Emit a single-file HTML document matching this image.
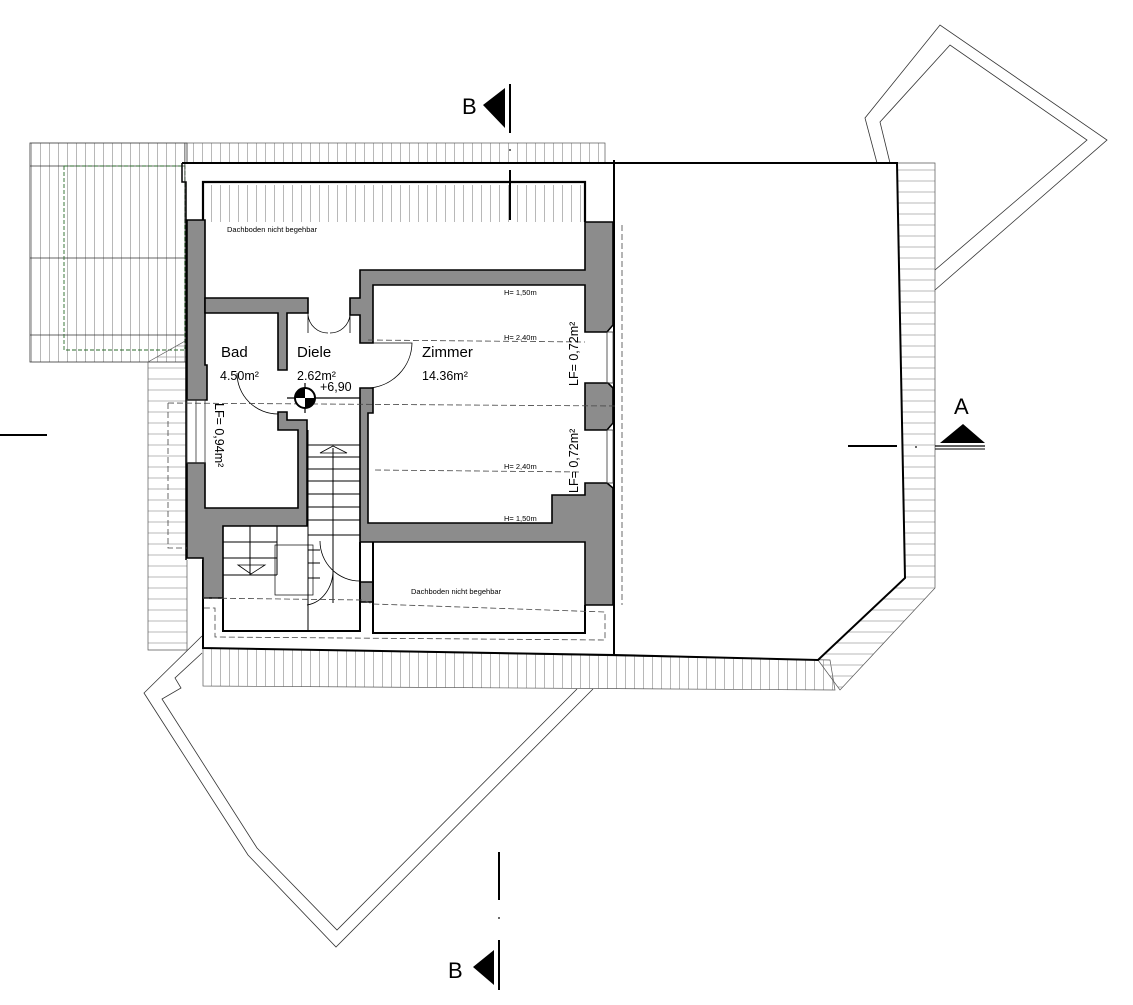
<!DOCTYPE html>
<html><head><meta charset="utf-8"><style>
html,body{margin:0;padding:0;background:#fff;}
svg{display:block;}
text{font-family:"Liberation Sans",Arial,sans-serif;fill:#000;}
</style></head><body>
<svg width="1133" height="1005" viewBox="0 0 1133 1005" xmlns="http://www.w3.org/2000/svg">
<defs>
<pattern id="vh" width="9" height="10" patternUnits="userSpaceOnUse"><line x1="4.5" y1="0" x2="4.5" y2="10" stroke="#9a9a9a" stroke-width="0.7"/></pattern>
<pattern id="hh" width="10" height="11" patternUnits="userSpaceOnUse"><line x1="0" y1="5" x2="10" y2="5" stroke="#9a9a9a" stroke-width="0.7"/></pattern>
</defs>

<rect x="30" y="143" width="157" height="219" fill="url(#vh)" stroke="#333" stroke-width="0.8"/>
<line x1="30" y1="166" x2="185" y2="166" stroke="#333" stroke-width="0.7"/>
<line x1="30" y1="258" x2="187" y2="258" stroke="#333" stroke-width="0.7"/>
<line x1="30" y1="335" x2="187" y2="335" stroke="#333" stroke-width="0.7"/>
<rect x="64" y="166" width="121" height="184" fill="none" stroke="#2a6a2a" stroke-width="0.9" stroke-dasharray="4,2"/>
<polygon points="148,362 187,340 187,650 148,650" fill="url(#hh)" stroke="#555" stroke-width="0.7"/>
<rect x="185" y="143" width="420" height="79" fill="url(#vh)" stroke="#555" stroke-width="0.7"/>
<polygon points="203,648 830,660 835,690 203,686" fill="url(#vh)" stroke="#555" stroke-width="0.7"/>
<polygon points="897,163 935,163 935,588 840,690 818,660 905,578" fill="url(#hh)" stroke="#555" stroke-width="0.7"/>

<polyline points="877,163 865,118 940,25 1107,140 935,290" fill="none" stroke="#333" stroke-width="0.8"/>
<polyline points="890,163 880,122 950,45 1087,140 935,270" fill="none" stroke="#333" stroke-width="0.8"/>
<polyline points="202,636 144,693 248,855 336,947 593,689" fill="none" stroke="#333" stroke-width="0.8"/>
<polyline points="202,653 175,678 181,688 162,699 257,848 337,930 577,689" fill="none" stroke="#333" stroke-width="0.8"/>

<polygon points="186,163 897,163 905,578 818,660 614,655 203,648 203,560 186,560" fill="#fff" stroke="none"/>
<rect x="205" y="185" width="378" height="37" fill="url(#vh)"/>
<polyline points="182,163 897,163 905,578 818,660 614,655 203,648 203,560" fill="none" stroke="#000" stroke-width="2"/>
<polyline points="182,163 182,182 186,182 186,560" fill="none" stroke="#000" stroke-width="1.5"/>
<line x1="614" y1="160" x2="614" y2="655" stroke="#000" stroke-width="2"/>

<polyline points="203,300 203,182 585,182 585,222" fill="none" stroke="#000" stroke-width="2.2"/>
<line x1="510" y1="170" x2="510" y2="220" stroke="#000" stroke-width="2"/>

<g fill="#8c8c8c" stroke="#000" stroke-width="1.6">
<polygon points="187,220 205,220 205,365 207,365 207,400 187,400"/>
<polygon points="205,298 308,298 308,313 287,313 287,370 278,370 278,313 205,313"/>
<polygon points="278,412 287,412 287,420 307,420 307,526 223,526 223,598 203,598 203,558 187,558 187,463 205,463 205,508 298,508 298,430 278,430"/>
<polygon points="360,270 585,270 585,222 613,222 613,325 607,332 585,332 585,285 373,285 373,343 360,343 360,315 350,315 350,298 360,298"/>
<polygon points="585,383 608,383 613,388 613,423 607,430 585,430"/>
<polygon points="360,388 373,388 373,413 368,413 368,523 552,523 552,495 585,495 585,483 607,483 613,488 613,605 585,605 585,542 360,542"/>
<polygon points="360,582 373,582 373,602 360,602"/>
</g>
<g fill="none" stroke="#333" stroke-width="0.8">
<rect x="187" y="400" width="18" height="63"/><line x1="196" y1="400" x2="196" y2="463"/>
<rect x="607" y="332" width="6" height="51"/><rect x="607" y="430" width="6" height="53"/>
</g>

<g fill="none" stroke="#000" stroke-width="2">
<polyline points="223,598 223,631 360,631 360,542"/>
<polyline points="373,542 373,633 585,633 585,605"/>
</g>
<g stroke="#000" stroke-width="1" fill="none">
<line x1="308" y1="430" x2="308" y2="631"/>
<line x1="308" y1="445" x2="360" y2="445"/><line x1="308" y1="457" x2="360" y2="457"/><line x1="308" y1="469" x2="360" y2="469"/><line x1="308" y1="481" x2="360" y2="481"/><line x1="308" y1="494" x2="360" y2="494"/><line x1="308" y1="507" x2="360" y2="507"/><line x1="308" y1="520" x2="360" y2="520"/><line x1="308" y1="535" x2="360" y2="535"/><line x1="308" y1="550" x2="320" y2="550"/><line x1="308" y1="563" x2="320" y2="563"/><line x1="308" y1="578" x2="320" y2="578"/>
<line x1="223" y1="542" x2="277" y2="542"/><line x1="223" y1="558" x2="277" y2="558"/><line x1="223" y1="575" x2="277" y2="575"/>
<line x1="250" y1="526" x2="250" y2="575"/><line x1="277" y1="526" x2="277" y2="575"/>
<rect x="275" y="545" width="38" height="50" stroke-width="0.7"/>
<line x1="333" y1="448" x2="333" y2="603"/>
<polygon points="320,453 333,446 347,453" stroke-width="0.8"/>
<polygon points="238,565 265,565 251,574" stroke-width="0.8"/>
<path d="M320,541 A40,40 0 0 0 360,581" stroke-width="0.8"/>
<path d="M307,605 A30,35 0 0 0 333,570" stroke-width="0.8"/>
<path d="M308,313 L308,333 M308,315 A20,20 0 0 0 328,333 M350,315 L350,333 M350,315 A20,20 0 0 1 330,333" stroke-width="0.8"/>
<path d="M368,343 L412,343 A46,46 0 0 1 368,388" stroke-width="0.8"/>
<path d="M237,373 A41,41 0 0 0 278,414" stroke-width="0.8"/>
</g>

<g fill="none" stroke="#444" stroke-width="0.8" stroke-dasharray="6,3">
<line x1="168" y1="403" x2="615" y2="406"/>
<line x1="368" y1="340" x2="585" y2="342"/>
<line x1="375" y1="470" x2="582" y2="472"/>
<line x1="622" y1="225" x2="622" y2="605"/>
<polyline points="168,403 168,548 187,548"/>
<polyline points="203,598 362,600 373,604 605,612 605,640 215,637 215,608 203,608"/>
</g>

<line x1="287" y1="398" x2="360" y2="398" stroke="#000" stroke-width="1.2"/>
<line x1="305" y1="383" x2="305" y2="413" stroke="#000" stroke-width="1.2"/>
<circle cx="305" cy="398" r="10" fill="#fff" stroke="#000" stroke-width="2"/>
<path d="M305,398 L295,398 A10,10 0 0 1 305,388 Z" fill="#000"/>
<path d="M305,398 L315,398 A10,10 0 0 1 305,408 Z" fill="#000"/>

<text x="227" y="232" font-size="7.5">Dachboden nicht begehbar</text>
<text x="411" y="594" font-size="7.5">Dachboden nicht begehbar</text>
<text x="504" y="295" font-size="7.5">H= 1,50m</text>
<text x="504" y="340" font-size="7.5">H= 2,40m</text>
<text x="504" y="469" font-size="7.5">H= 2,40m</text>
<text x="504" y="521" font-size="7.5">H= 1,50m</text>
<text x="221" y="357" font-size="15">Bad</text>
<text x="220" y="380" font-size="12.5">4.50m²</text>
<text x="297" y="357" font-size="15">Diele</text>
<text x="297" y="380" font-size="12.5">2.62m²</text>
<text x="320" y="391" font-size="12.5">+6,90</text>
<text x="422" y="357" font-size="15">Zimmer</text>
<text x="422" y="380" font-size="12.5">14.36m²</text>
<text transform="translate(578,386) rotate(-90)" font-size="12.5">LF= 0,72m²</text>
<text transform="translate(578,493) rotate(-90)" font-size="12.5">LF= 0,72m²</text>
<text transform="translate(215,403) rotate(90)" font-size="12.5">LF= 0,94m²</text>

<text x="462" y="114" font-size="22">B</text>
<polygon points="483,105 505,88 505,128" fill="#000"/>
<line x1="510" y1="84" x2="510" y2="133" stroke="#000" stroke-width="2"/>
<circle cx="510" cy="150" r="0.9" fill="#000"/>
<line x1="499" y1="852" x2="499" y2="900" stroke="#000" stroke-width="2"/>
<circle cx="499" cy="918" r="0.9" fill="#000"/>
<text x="448" y="978" font-size="22">B</text>
<polygon points="473,967 494,950 494,985" fill="#000"/>
<line x1="499" y1="940" x2="499" y2="990" stroke="#000" stroke-width="2"/>
<line x1="0" y1="435" x2="47" y2="435" stroke="#000" stroke-width="2"/>
<line x1="848" y1="446" x2="897" y2="446" stroke="#000" stroke-width="2"/>
<circle cx="916" cy="447" r="0.9" fill="#000"/>
<line x1="935" y1="446" x2="985" y2="446" stroke="#000" stroke-width="1.2"/>
<line x1="935" y1="449" x2="985" y2="449" stroke="#000" stroke-width="1"/>
<polygon points="940,443 963,424 985,443" fill="#000"/>
<text x="954" y="414" font-size="22">A</text>
</svg>
</body></html>
